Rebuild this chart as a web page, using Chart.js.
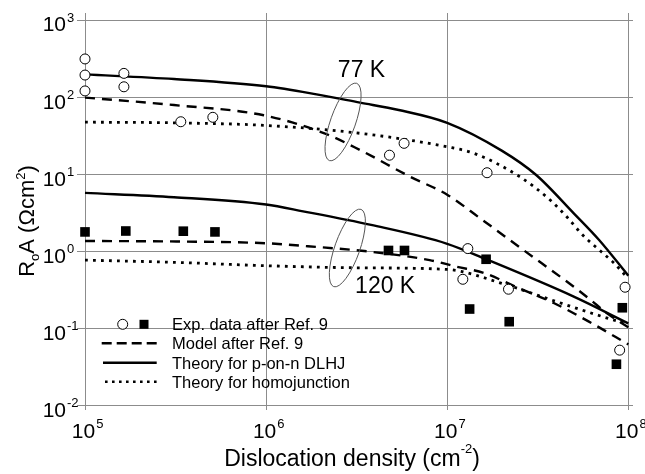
<!DOCTYPE html>
<html>
<head>
<meta charset="utf-8">
<script src="https://cdn.jsdelivr.net/npm/chart.js@4.4.1/dist/chart.umd.min.js"></script>
<style>
  html, body { margin: 0; padding: 0; background: #fff; }
  canvas { display: block; }
</style>
</head>
<body>
<canvas id="mygraph" width="645" height="474"></canvas>
<script>
// decade ticks on both axes
const xTicks = [1e5, 1e6, 1e7, 1e8];
const yTicks = [1e-2, 1e-1, 1e0, 1e1, 1e2, 1e3];

// Exp. data after Ref. 9 (open circles = 77 K, filled squares = 120 K)
const circleX = [1e5, 1e5, 1e5, 1.64e5, 1.64e5, 3.38e5, 5.08e5, 4.8e6, 5.78e6, 1.66e7, 1.3e7, 1.22e7, 2.18e7, 9.6e7, 8.96e7];
const circleY = [317, 196, 122, 206, 138, 48.6, 55.5, 17.9, 25.5, 10.6, 1.10, 0.44, 0.327, 0.347, 0.053];
const squareX = [1e5, 1.68e5, 3.49e5, 5.22e5, 4.74e6, 5.81e6, 1.64e7, 1.33e7, 2.2e7, 9.27e7, 8.6e7];
const squareY = [1.81, 1.86, 1.85, 1.81, 1.04, 1.04, 0.80, 0.181, 0.124, 0.188, 0.0348];

// Theory for p-on-n DLHJ
const dlhj77X = [1e5, 3.1e5, 1e6, 1.9e6, 3.3e6, 5.4e6, 1e7, 2e7, 3.1e7, 5e7, 6.9e7, 1e8];
const dlhj77Y = [200, 174, 140, 110, 86, 69, 47, 20.5, 9.9, 3.15, 1.42, 0.49];
const dlhj120X = [1e5, 3.1e5, 1e6, 1.6e6, 3.8e6, 1e7, 1.64e7, 5e7, 1e8];
const dlhj120Y = [5.8, 5.1, 4.1, 3.35, 2.23, 1.27, 0.80, 0.262, 0.118];

// Model after Ref. 9
const model77X = [1e5, 3.1e5, 9.7e5, 2.1e6, 3.3e6, 6.25e6, 1e7, 1.52e7, 2.64e7, 5e7, 6.2e7, 7.6e7, 1e8];
const model77Y = [100, 80, 59, 34.4, 20.9, 9.4, 5.5, 2.72, 1.05, 0.352, 0.237, 0.16, 0.105];
const model120X = [1e5, 3.2e5, 1e6, 1.7e6, 3.8e6, 8e6, 1.13e7, 1.6e7, 2.4e7, 3.9e7, 6.3e7, 1e8];
const model120Y = [1.38, 1.36, 1.29, 1.18, 1.0, 0.78, 0.64, 0.53, 0.35, 0.215, 0.118, 0.063];

// Theory for homojunction
const homo77X = [1e5, 3.2e5, 1e6, 3.3e6, 1e7, 1.4e7, 2.5e7, 3.7e7, 4.6e7, 5.6e7, 7.1e7, 8.3e7, 1e8];
const homo77Y = [48, 47, 43.5, 34.4, 23, 19, 9.5, 4.7, 2.8, 1.65, 1.0, 0.72, 0.45];
const homo120X = [1e5, 3.1e5, 1e6, 3.2e6, 1e7, 2e7, 3.2e7, 5e7, 7.9e7, 1e8];
const homo120Y = [0.78, 0.73, 0.66, 0.62, 0.59, 0.39, 0.27, 0.19, 0.135, 0.115];

const legendLabels = ['Exp. data after Ref. 9', 'Model after Ref. 9', 'Theory for p-on-n DLHJ', 'Theory for homojunction'];
const FONT = '"Liberation Sans", Arial, Helvetica, sans-serif';

function pts(xs, ys) {
  return xs.map((x, i) => ({ x: x, y: ys[i] }));
}

const DASH = [10, 7];
const DOT = [2.8, 5.2];

function curve(xs, ys, dash) {
  return {
    type: 'line',
    data: pts(xs, ys),
    borderColor: '#000',
    borderWidth: dash === DOT ? 2.8 : 2.4,
    borderDash: dash,
    borderCapStyle: 'butt',
    pointRadius: 0,
    cubicInterpolationMode: 'monotone',
    fill: false
  };
}

// draw "10" with a raised exponent
function drawPow(ctx, exp, x, y, align) {
  ctx.font = '21px ' + FONT;
  const w = ctx.measureText('10').width;
  let left = align === 'right' ? x - w : x - w / 2;
  ctx.textAlign = 'left';
  ctx.fillText('10', left, y);
  ctx.font = '13px ' + FONT;
  ctx.fillText(String(exp), left + w + 1, y - 9.5);
}

const textPlugin = {
  id: 'texts',
  afterDraw(chart) {
    const ctx = chart.ctx;
    const xs = chart.scales.x, ys = chart.scales.y;
    ctx.save();
    ctx.fillStyle = '#000';
    ctx.strokeStyle = '#000';
    ctx.textBaseline = 'alphabetic';

    // tick labels
    yTicks.forEach(v => {
      const py = ys.getPixelForValue(v);
      drawPow(ctx, Math.round(Math.log10(v)), 66, py + 11, 'right');
    });
    xTicks.forEach(v => {
      const px = xs.getPixelForValue(v);
      drawPow(ctx, Math.round(Math.log10(v)), px - 1.5, 437.5, 'center');
    });

    // x axis title
    ctx.font = '23px ' + FONT;
    const t1 = 'Dislocation density (cm', t3 = ')';
    const w1 = ctx.measureText(t1).width, w3 = ctx.measureText(t3).width;
    ctx.font = '13px ' + FONT;
    const w2 = ctx.measureText('-2').width;
    let sx = 352 - (w1 + w2 + w3) / 2;
    ctx.font = '23px ' + FONT;
    ctx.fillText(t1, sx, 466);
    ctx.font = '13px ' + FONT;
    ctx.fillText('-2', sx + w1, 453);
    ctx.font = '23px ' + FONT;
    ctx.fillText(t3, sx + w1 + w2, 466);

    // y axis title (rotated)
    ctx.save();
    ctx.translate(34, 221);
    ctx.rotate(-Math.PI / 2);
    const parts = [
      ['R', 22, 0], ['o', 13, 5], ['A (\u03A9cm', 22, 0], ['2', 13, -9], [')', 22, 0]
    ];
    let total = 0;
    parts.forEach(p => { ctx.font = p[1] + 'px ' + FONT; total += ctx.measureText(p[0]).width; });
    let cx = -total / 2;
    parts.forEach(p => {
      ctx.font = p[1] + 'px ' + FONT;
      ctx.fillText(p[0], cx, p[2]);
      cx += ctx.measureText(p[0]).width;
    });
    ctx.restore();

    // temperature labels and loops
    ctx.font = '23px ' + FONT;
    ctx.fillText('77 K', xs.getPixelForValue(2.49e6), ys.getPixelForValue(187));
    ctx.fillText('120 K', xs.getPixelForValue(3.1e6), ys.getPixelForValue(0.29));
    ctx.strokeStyle = '#555';
    ctx.lineWidth = 1;
    [[2.66e6, 48.3], [2.81e6, 1.12]].forEach(c => {
      ctx.beginPath();
      ctx.ellipse(xs.getPixelForValue(c[0]), ys.getPixelForValue(c[1]), 12.5, 41, 0.34, 0, Math.PI * 2);
      ctx.stroke();
    });

    // legend
    ctx.strokeStyle = '#000';
    ctx.font = '16.5px ' + FONT;
    const rows = [324.3, 343.3, 362.7, 381.7];
    legendLabels.forEach((t, i) => ctx.fillText(t, 172, rows[i] + 6));
    ctx.lineWidth = 1;
    ctx.fillStyle = '#fff';
    ctx.beginPath();
    ctx.arc(122.7, rows[0], 5, 0, Math.PI * 2);
    ctx.fill();
    ctx.stroke();
    ctx.fillStyle = '#000';
    ctx.fillRect(139.5, rows[0] - 4.5, 9, 9);
    ctx.lineWidth = 2.4;
    ctx.setLineDash([10, 5]);
    ctx.beginPath(); ctx.moveTo(101.7, rows[1]); ctx.lineTo(156.7, rows[1]); ctx.stroke();
    ctx.setLineDash([]);
    ctx.beginPath(); ctx.moveTo(103, rows[2]); ctx.lineTo(156.7, rows[2]); ctx.stroke();
    ctx.lineWidth = 2.6;
    ctx.setLineDash([2.6, 4.4]);
    ctx.beginPath(); ctx.moveTo(105, rows[3]); ctx.lineTo(157, rows[3]); ctx.stroke();
    ctx.restore();
  }
};

const graph = document.getElementById('mygraph');
new Chart(graph, {
  type: 'line',
  data: {
    datasets: [
      {
        type: 'scatter',
        data: pts(circleX, circleY),
        pointStyle: 'circle',
        pointRadius: 5,
        pointBackgroundColor: '#fff',
        pointBorderColor: '#000',
        pointBorderWidth: 1,
        showLine: false
      },
      {
        type: 'scatter',
        data: pts(squareX, squareY),
        pointStyle: 'rect',
        pointRadius: 6.8,
        pointBackgroundColor: '#000',
        pointBorderColor: '#000',
        pointBorderWidth: 0,
        showLine: false
      },
      curve(dlhj77X, dlhj77Y, []),
      curve(dlhj120X, dlhj120Y, []),
      curve(model77X, model77Y, DASH),
      curve(model120X, model120Y, DASH),
      curve(homo77X, homo77Y, DOT),
      curve(homo120X, homo120Y, DOT)
    ]
  },
  options: {
    responsive: false,
    animation: false,
    layout: { padding: { left: 77, top: 13, right: 12, bottom: 64 } },
    plugins: { legend: { display: false }, tooltip: { enabled: false } },
    scales: {
      x: {
        type: 'logarithmic',
        min: Math.pow(10, 4.9558),
        max: Math.pow(10, 8.026),
        afterBuildTicks: s => { s.ticks = xTicks.map(v => ({ value: v })); },
        afterFit: s => { s.height = 0; },
        ticks: { display: false },
        grid: { color: '#8c8c8c', lineWidth: 1, drawTicks: false },
        border: { display: false }
      },
      y: {
        type: 'logarithmic',
        min: Math.pow(10, -2.052),
        max: Math.pow(10, 3.097),
        afterBuildTicks: s => { s.ticks = yTicks.map(v => ({ value: v })); },
        afterFit: s => { s.width = 0; },
        ticks: { display: false },
        grid: { color: '#8c8c8c', lineWidth: 1, drawTicks: false },
        border: { display: false }
      }
    }
  },
  plugins: [textPlugin]
});
</script>
</body>
</html>
